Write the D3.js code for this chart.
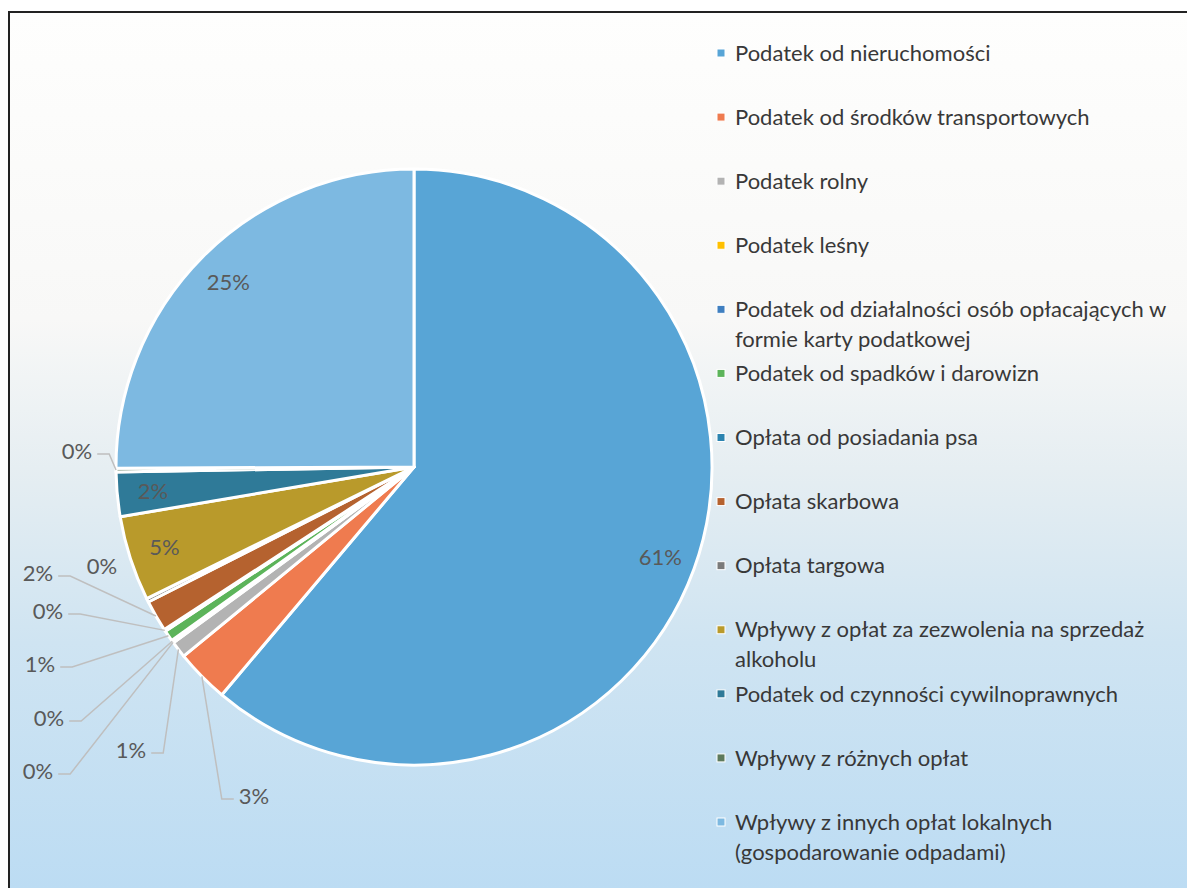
<!DOCTYPE html>
<html>
<head>
<meta charset="utf-8">
<script src="https://cdn.jsdelivr.net/npm/d3@7"></script>
<style>
  body { margin: 0; background: #fff; }
  svg text { font-family: Lato, "Open Sans", sans-serif; }
</style>
</head>
<body>
<script>
// Data (share of local revenue, in %)
const categories = [
    "Podatek od nieruchomości",
    "Podatek od środków transportowych",
    "Podatek rolny",
    "Podatek leśny",
    "Podatek od działalności osób opłacających w formie karty podatkowej",
    "Podatek od spadków i darowizn",
    "Opłata od posiadania psa",
    "Opłata skarbowa",
    "Opłata targowa",
    "Wpływy z opłat za zezwolenia na sprzedaż alkoholu",
    "Podatek od czynności cywilnoprawnych",
    "Wpływy z różnych opłat",
    "Wpływy z innych opłat lokalnych (gospodarowanie odpadami)"
];
const values = [61.0, 2.9, 0.9, 0.05, 0.1, 0.6, 0.1, 1.7, 0.2, 4.6, 2.4, 0.2, 25.0];

const colors = ["#58a5d6", "#ef7b4f", "#b3b3b3", "#ffc000", "#3f7fc0", "#5cb45a",
    "#2c84b0", "#b5622f", "#7a7a7a", "#b99a2b", "#2f7a98", "#5d7a5c", "#7db9e1"];

// Where Excel put the outside labels (relative to pie centre); null = inside
const labelSpots = [null, [-160, 329], [-283, 283], [-376, 304], [-365, 251], [-374, 197],
    [-366, 144], [-376, 106], [-312, 99], null, null, [-337, -16], null];
// which outside labels got a leader line
const leaders = [false, true, true, true, true, true, true, true, false, false, false, true, false];

const width = 1187,
    height = 888,
    cx = 414,
    cy = 467,
    radius = 298,
    fontSize = 22;

const svg = d3.select('body').append('svg')
    .attr('width', width)
    .attr('height', height);

// Background gradient of the chart area
const grad = svg.append('defs').append('linearGradient')
    .attr('id', 'bg')
    .attr('x1', 0).attr('y1', 0).attr('x2', 0).attr('y2', 1);
[[0, '#fefefd'], [0.35, '#f8f8f7'], [0.52, '#e6eef2'], [0.72, '#cfe4f2'], [1, '#bcdcf3']]
    .forEach(s => grad.append('stop').attr('offset', s[0]).attr('stop-color', s[1]));

svg.append('rect')
    .attr('x', 9).attr('y', 12)
    .attr('width', width - 9).attr('height', height - 12)
    .attr('fill', 'url(#bg)');

svg.append('path')
    .attr('d', `M9,${height} V12 H${width}`)
    .attr('fill', 'none')
    .attr('stroke', '#222')
    .attr('stroke-width', 2);

const total = d3.sum(values);
const pct = d3.format('.0%');

const pie = d3.pie().sort(null).value(d => d);
const arcs = pie(values);

const arc = d3.arc().innerRadius(0).outerRadius(radius);

const plot = svg.append('g')
    .attr('transform', `translate(${cx},${cy})`);

plot.selectAll('path.slice')
    .data(arcs)
    .enter().append('path')
    .attr('class', 'slice')
    .attr('d', arc)
    .attr('fill', (d, i) => colors[i])
    .attr('stroke', '#fff')
    .attr('stroke-width', 3)
    .attr('stroke-linejoin', 'round');

// Data labels
const innerLabelArc = d3.arc().innerRadius(radius * 0.88).outerRadius(radius * 0.88);
const rimArc = d3.arc().innerRadius(radius).outerRadius(radius);

arcs.forEach((d, i) => {
    const text = pct(d.value / total);
    const spot = labelSpots[i];
    if (!spot) {
        const [x, y] = innerLabelArc.centroid(d);
        plot.append('text')
            .attr('x', x).attr('y', y)
            .attr('dy', '0.35em')
            .attr('text-anchor', 'middle')
            .attr('font-size', fontSize)
            .attr('fill', '#595959')
            .text(text);
        return;
    }
    const [lx, ly] = spot;
    const t = plot.append('text')
        .attr('x', lx).attr('y', ly)
        .attr('dy', '0.35em')
        .attr('text-anchor', 'middle')
        .attr('font-size', fontSize)
        .attr('fill', '#595959')
        .text(text);
    if (!leaders[i]) return;
    const [rx, ry] = rimArc.centroid(d);
    const half = t.node().getComputedTextLength() / 2;
    const side = rx > lx ? 1 : -1;
    const x0 = lx + side * (half + 5),
        x1 = x0 + side * 12,
        y0 = ly + 3;
    plot.append('path')
        .attr('d', `M${x0},${y0} H${x1} L${rx},${ry}`)
        .attr('fill', 'none')
        .attr('stroke', '#bfbfbf')
        .attr('stroke-width', 1.5);
});

// Legend
const legendY = d3.scalePoint()
    .domain(categories)
    .range([53, 822]);

const legend = svg.append('g').attr('class', 'legend');

const items = legend.selectAll('g')
    .data(categories)
    .enter().append('g')
    .attr('transform', d => `translate(717,${legendY(d)})`);

items.append('rect')
    .attr('x', 0).attr('y', -4)
    .attr('width', 8).attr('height', 8)
    .attr('fill', (d, i) => colors[i])
    .attr('stroke', '#fff')
    .attr('stroke-width', 1);

items.append('text')
    .attr('x', 18)
    .attr('y', 0)
    .attr('font-size', fontSize)
    .attr('fill', '#383838')
    .each(function (d) {
        wrap(d3.select(this), d, 445);
    });

function wrap(text, str, maxWidth) {
    const words = str.split(' ');
    let line = [];
    let tspan = text.append('tspan').attr('x', 18).attr('dy', '0.35em');
    words.forEach(w => {
        line.push(w);
        tspan.text(line.join(' '));
        if (tspan.node().getComputedTextLength() > maxWidth && line.length > 1) {
            line.pop();
            tspan.text(line.join(' '));
            line = [w];
            tspan = text.append('tspan').attr('x', 18).attr('dy', 30).text(w);
        }
    });
}
</script>
</body>
</html>
